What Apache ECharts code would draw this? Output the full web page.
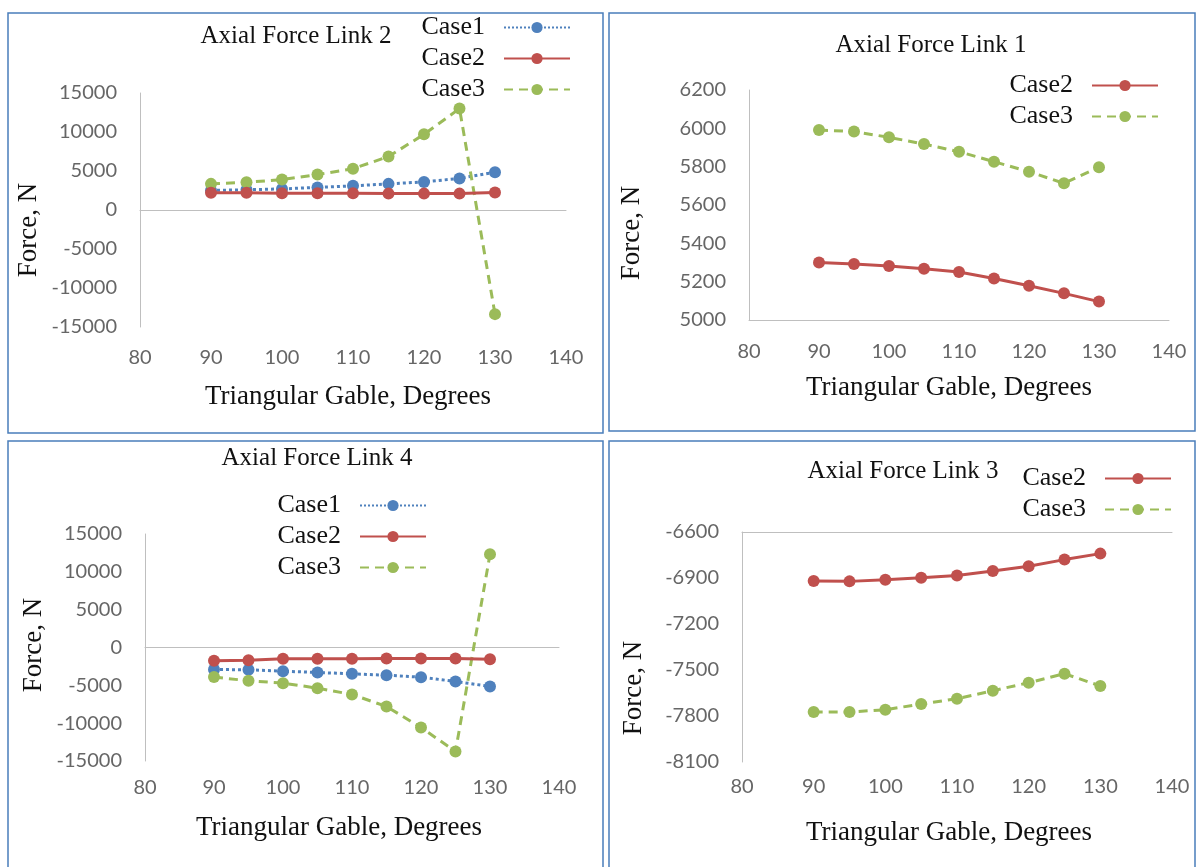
<!DOCTYPE html>
<html>
<head>
<meta charset="utf-8">
<script src="https://cdn.jsdelivr.net/npm/echarts@6/dist/echarts.min.js"></script>
<style>
  html, body { margin: 0; padding: 0; background: #fff; }
  #chart { width: 1197px; height: 867px; }
</style>
</head>
<body>
<div id="chart"></div>
<script>
// gable angles (x)
const angles = [90, 95, 100, 105, 110, 115, 120, 125, 130]
const xTicks = [80, 90, 100, 110, 120, 130, 140]

// Axial Force Link 2
const link2Case1 = [2500, 2600, 2700, 2900, 3100, 3350, 3600, 4050, 4850]
const link2Case2 = [2200, 2200, 2150, 2150, 2150, 2100, 2100, 2100, 2250]
const link2Case3 = [3350, 3550, 3900, 4550, 5300, 6850, 9700, 13000, -13350]

// Axial Force Link 1
const link1Case2 = [5300, 5292, 5282, 5268, 5250, 5217, 5179, 5139, 5096]
const link1Case3 = [5991, 5983, 5953, 5918, 5878, 5826, 5774, 5713, 5797]

// Axial Force Link 4
const link4Case1 = [-2900, -2950, -3130, -3300, -3480, -3660, -3920, -4490, -5150]
const link4Case2 = [-1750, -1700, -1500, -1500, -1500, -1450, -1450, -1450, -1550]
const link4Case3 = [-3900, -4400, -4710, -5370, -6210, -7800, -10570, -13740, 12330]

// Axial Force Link 3
const link3Case2 = [-6920, -6922, -6911, -6898, -6883, -6854, -6824, -6780, -6741]
const link3Case3 = [-7774, -7774, -7759, -7722, -7687, -7635, -7583, -7524, -7604]

const SERIF = '"Liberation Serif", "Times New Roman", serif'
const SANS = 'Lato, "Open Sans", sans-serif'
const AXIS_GREY = '#bfbfbf'
const TICK_GREY = '#666'
const caseStyle = {
  Case1: { color: '#4f81bd', type: 'dotted' },
  Case2: { color: '#c0504d', type: 'solid' },
  Case3: { color: '#9bbb59', type: [9, 6] }
}

function pairs(vals) {
  return angles.map((a, i) => [a, vals[i]])
}

function lineSeries(name, vals, xi, yi) {
  const s = caseStyle[name]
  return {
    name,
    type: 'line',
    xAxisIndex: xi,
    yAxisIndex: yi,
    data: pairs(vals),
    symbol: 'circle',
    symbolSize: 12,
    itemStyle: { color: s.color },
    lineStyle: { color: s.color, width: 3, type: s.type },
    z: name === 'Case2' ? 3 : 2
  }
}

const plainNum = v => String(v)

// x axis carrying the tick labels (line drawn elsewhere when needed)
function labelXAxis(gi, showLine, margin) {
  return {
    type: 'value', gridIndex: gi, min: xTicks[0], max: xTicks[xTicks.length - 1], interval: 10,
    position: 'bottom',
    axisLine: { show: showLine, onZero: false, lineStyle: { color: AXIS_GREY, width: 1 } },
    axisTick: { show: false },
    splitLine: { show: false },
    axisLabel: { color: TICK_GREY, fontFamily: SANS, fontSize: 20, margin, formatter: plainNum }
  }
}

function lineOnlyXAxis(gi, position, onZero) {
  return {
    type: 'value', gridIndex: gi, min: 80, max: 140, interval: 10,
    position,
    axisLine: { show: true, onZero, lineStyle: { color: AXIS_GREY, width: 1 } },
    axisTick: { show: false },
    axisLabel: { show: false },
    splitLine: { show: false }
  }
}

function yAxis(gi, min, max, interval) {
  return {
    type: 'value', gridIndex: gi, min, max, interval,
    axisLine: { show: true, onZero: false, lineStyle: { color: AXIS_GREY, width: 1 } },
    axisTick: { show: false },
    splitLine: { show: false },
    axisLabel: { color: TICK_GREY, fontFamily: SANS, fontSize: 20, margin: 23, formatter: plainNum }
  }
}

function legend(names, right, top) {
  return {
    orient: 'vertical',
    align: 'right',
    right, top,
    data: names,
    itemWidth: 66,
    itemHeight: 14,
    itemGap: 2,
    selectedMode: false,
    textStyle: { fontFamily: SERIF, fontSize: 26, color: '#111', lineHeight: 29, padding: [0, 14, 0, 0] }
  }
}

function title(text, cx, cy) {
  return {
    text, left: cx, top: cy - 14, textAlign: 'center',
    textStyle: { fontFamily: SERIF, fontSize: 25, fontWeight: 'normal', color: '#111' }
  }
}

function axisName(text, x, y, vertical) {
  return {
    type: 'text', x, y, rotation: vertical ? Math.PI / 2 : 0,
    style: { text, font: '27px ' + SERIF, fill: '#111', align: 'center', verticalAlign: 'middle' }
  }
}

function frame(x1, y1, x2, y2) {
  return {
    type: 'rect', shape: { x: x1, y: y1, width: x2 - x1, height: y2 - y1 },
    style: { fill: null, stroke: '#4a7ebb', lineWidth: 1.5 }
  }
}

const chart = echarts.init(document.getElementById('chart'), null, { renderer: 'canvas' })

chart.setOption({
  backgroundColor: '#fff',
  animation: false,
  title: [
    title('Axial Force Link 2', 291, 33),
    title('Axial Force Link 1', 926, 42),
    title('Axial Force Link 4', 312, 455),
    title('Axial Force Link 3', 898, 468)
  ],
  legend: [
    legend(['Case1', 'Case2', 'Case3'], 1197 - 576, 8),
    legend(['Case2', 'Case3'], 1197 - 1164, 66),
    legend(['Case1', 'Case2', 'Case3'], 1197 - 432, 486),
    legend(['Case2', 'Case3'], 1197 - 1177, 459)
  ],
  grid: [
    { left: 140, top: 93, width: 426, height: 234 },
    { left: 749, top: 90, width: 420, height: 230 },
    { left: 145, top: 534, width: 414, height: 227 },
    { left: 742, top: 532, width: 430, height: 230 }
  ],
  xAxis: [
    labelXAxis(0, false, 21),
    lineOnlyXAxis(0, 'bottom', true),
    labelXAxis(1, true, 22),
    labelXAxis(2, false, 17),
    lineOnlyXAxis(2, 'bottom', true),
    labelXAxis(3, false, 15),
    lineOnlyXAxis(3, 'top', false)
  ],
  yAxis: [
    yAxis(0, -15000, 15000, 5000),
    yAxis(1, 5000, 6200, 200),
    yAxis(2, -15000, 15000, 5000),
    yAxis(3, -8100, -6600, 300)
  ],
  series: [
    lineSeries('Case1', link2Case1, 0, 0),
    lineSeries('Case2', link2Case2, 0, 0),
    lineSeries('Case3', link2Case3, 0, 0),
    lineSeries('Case2', link1Case2, 2, 1),
    lineSeries('Case3', link1Case3, 2, 1),
    lineSeries('Case1', link4Case1, 3, 2),
    lineSeries('Case2', link4Case2, 3, 2),
    lineSeries('Case3', link4Case3, 3, 2),
    lineSeries('Case2', link3Case2, 5, 3),
    lineSeries('Case3', link3Case3, 5, 3)
  ],
  graphic: [
    frame(8, 13, 603, 433),
    frame(609, 13, 1195, 431),
    frame(8, 441, 603, 870),
    frame(609, 441, 1195, 870),
    axisName('Force, N', 29, 230, true),
    axisName('Triangular Gable, Degrees', 348, 397, false),
    axisName('Force, N', 632, 233, true),
    axisName('Triangular Gable, Degrees', 949, 388, false),
    axisName('Force, N', 34, 645, true),
    axisName('Triangular Gable, Degrees', 339, 828, false),
    axisName('Force, N', 634, 688, true),
    axisName('Triangular Gable, Degrees', 949, 833, false)
  ]
})
</script>
</body>
</html>
